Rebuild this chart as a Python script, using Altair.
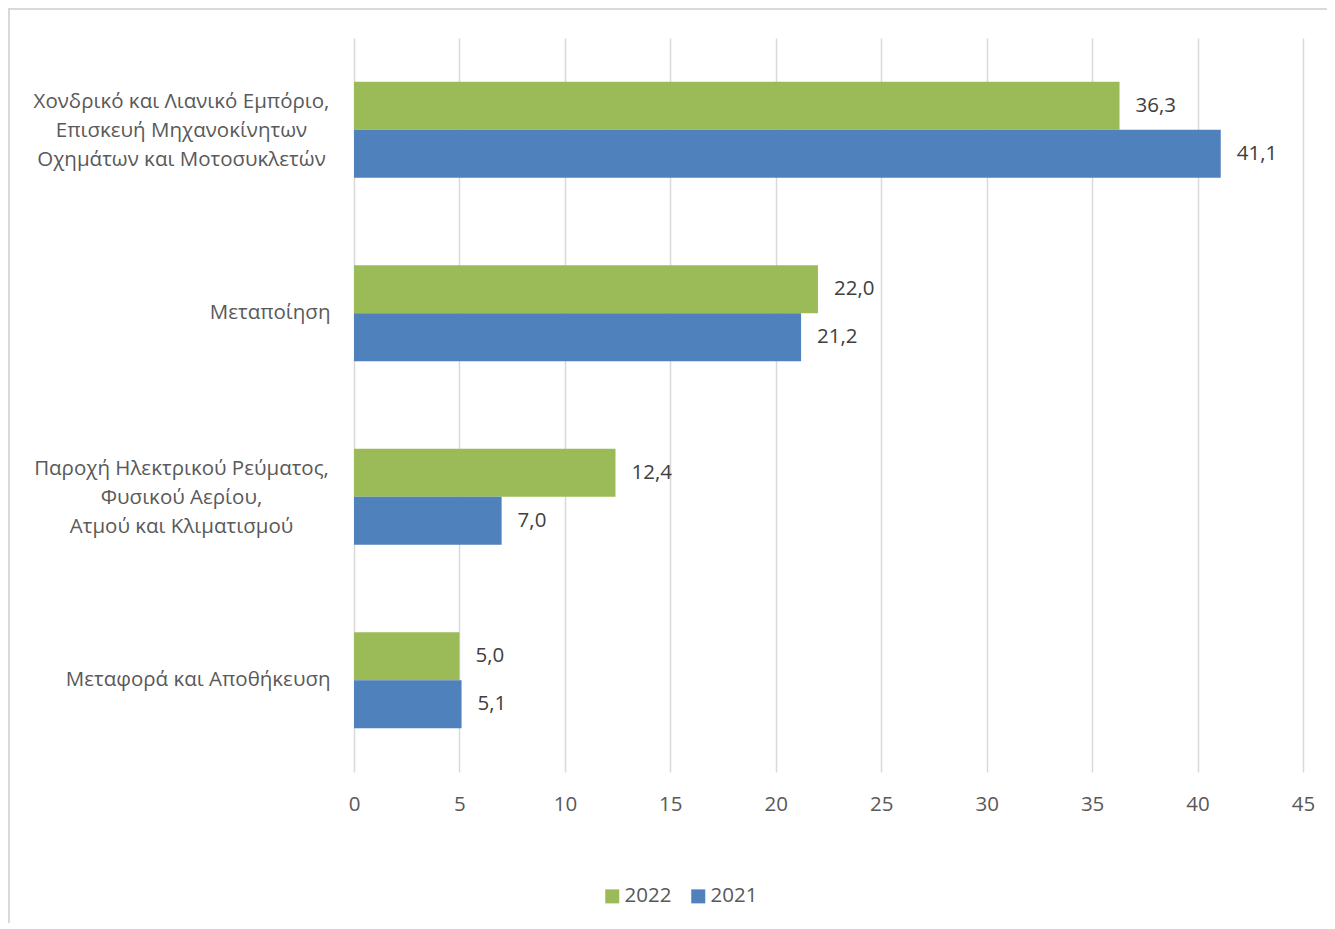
import altair as alt
import pandas as pd

categories = [
    "Χονδρικό και Λιανικό Εμπόριο,|Επισκευή Μηχανοκίνητων|Οχημάτων και Μοτοσυκλετών",
    "Μεταποίηση",
    "Παροχή Ηλεκτρικού Ρεύματος,|Φυσικού Αερίου,|Ατμού και Κλιματισμού",
    "Μεταφορά και Αποθήκευση",
]
years = ["2022", "2021"]
values_2022 = [36.3, 22.0, 12.4, 5.0]
values_2021 = [41.1, 21.2, 7.0, 5.1]
x_ticks = [0, 5, 10, 15, 20, 25, 30, 35, 40, 45]

rows = []
for c, v in zip(categories, values_2022):
    rows.append({"category": c, "year": "2022", "value": v})
for c, v in zip(categories, values_2021):
    rows.append({"category": c, "year": "2021", "value": v})
df = pd.DataFrame(rows)
df["label"] = df["value"].map(lambda v: f"{v:.1f}".replace(".", ","))

GREEN = "#9BBB59"
BLUE = "#4F81BD"
FONT = "Open Sans"
FS = 20.5
W, H = 949, 734
MULTI = "indexof(datum.value, '|') >= 0"

y_enc = alt.Y(
    "category:N",
    sort=categories,
    scale=alt.Scale(paddingInner=0.477, paddingOuter=0.2385),
    axis=alt.Axis(
        title=None,
        labelExpr="split(datum.label, '|')",
        labelAlign={"condition": {"test": MULTI, "value": "center"}, "value": "right"},
        labelPadding={"condition": {"test": MULTI, "value": 173}, "value": 24},
        labelOffset={"condition": {"test": MULTI, "value": -28}, "value": 0},
        labelBaseline="middle",
        labelLineHeight=29,
        labelFontSize=FS,
        labelFont=FONT,
        labelColor="#595959",
        ticks=False,
        domain=False,
        grid=False,
        labelLimit=400,
    ),
)
yoff = alt.YOffset("year:N", sort=years, scale=alt.Scale(paddingInner=0, paddingOuter=0))
x_enc = alt.X(
    "value:Q",
    scale=alt.Scale(domain=[0, 45], nice=False),
    axis=alt.Axis(
        title=None,
        values=x_ticks,
        grid=True,
        gridColor="#D9D9D9",
        gridWidth=1.5,
        domain=False,
        ticks=False,
        labelFlush=False,
        labelPadding=22,
        labelFontSize=FS,
        labelFont=FONT,
        labelColor="#595959",
    ),
)

frame = alt.Chart(pd.DataFrame({"a": [0]})).mark_rect(
    filled=False, stroke="#D9D9D9", strokeWidth=2
).encode(
    x=alt.value(-345), x2=alt.value(W + 200), y=alt.value(-29), y2=alt.value(H + 400)
)

bars = alt.Chart(df).mark_bar().encode(
    y=y_enc,
    yOffset=yoff,
    x=x_enc,
    color=alt.Color(
        "year:N",
        scale=alt.Scale(domain=years, range=[GREEN, BLUE]),
        legend=alt.Legend(
            title=None,
            orient="none",
            legendX=248,
            legendY=848,
            direction="horizontal",
            symbolType="square",
            symbolSize=196,
            symbolStrokeWidth=0,
            labelFontSize=FS,
            labelFont=FONT,
            labelColor="#595959",
            labelOffset=2,
            columnPadding=16,
            padding=0,
        ),
    ),
)

texts = alt.Chart(df).mark_text(
    align="left", baseline="middle", dx=16, fontSize=FS, font=FONT, color="#404040"
).encode(
    y=alt.Y("category:N", sort=categories),
    yOffset=alt.YOffset("year:N", sort=years),
    x=alt.X("value:Q"),
    text="label:N",
)

chart = alt.layer(frame, bars, texts).properties(
    width=W,
    height=H,
    background="white",
    autosize=alt.AutoSizeParams(type="none"),
    padding={"left": 346, "top": 30, "right": 24, "bottom": 151},
).configure_view(strokeWidth=0, stroke="transparent").configure_axis(domain=False)

chart.save("out.html", embed_options={"renderer": "svg", "actions": False})
